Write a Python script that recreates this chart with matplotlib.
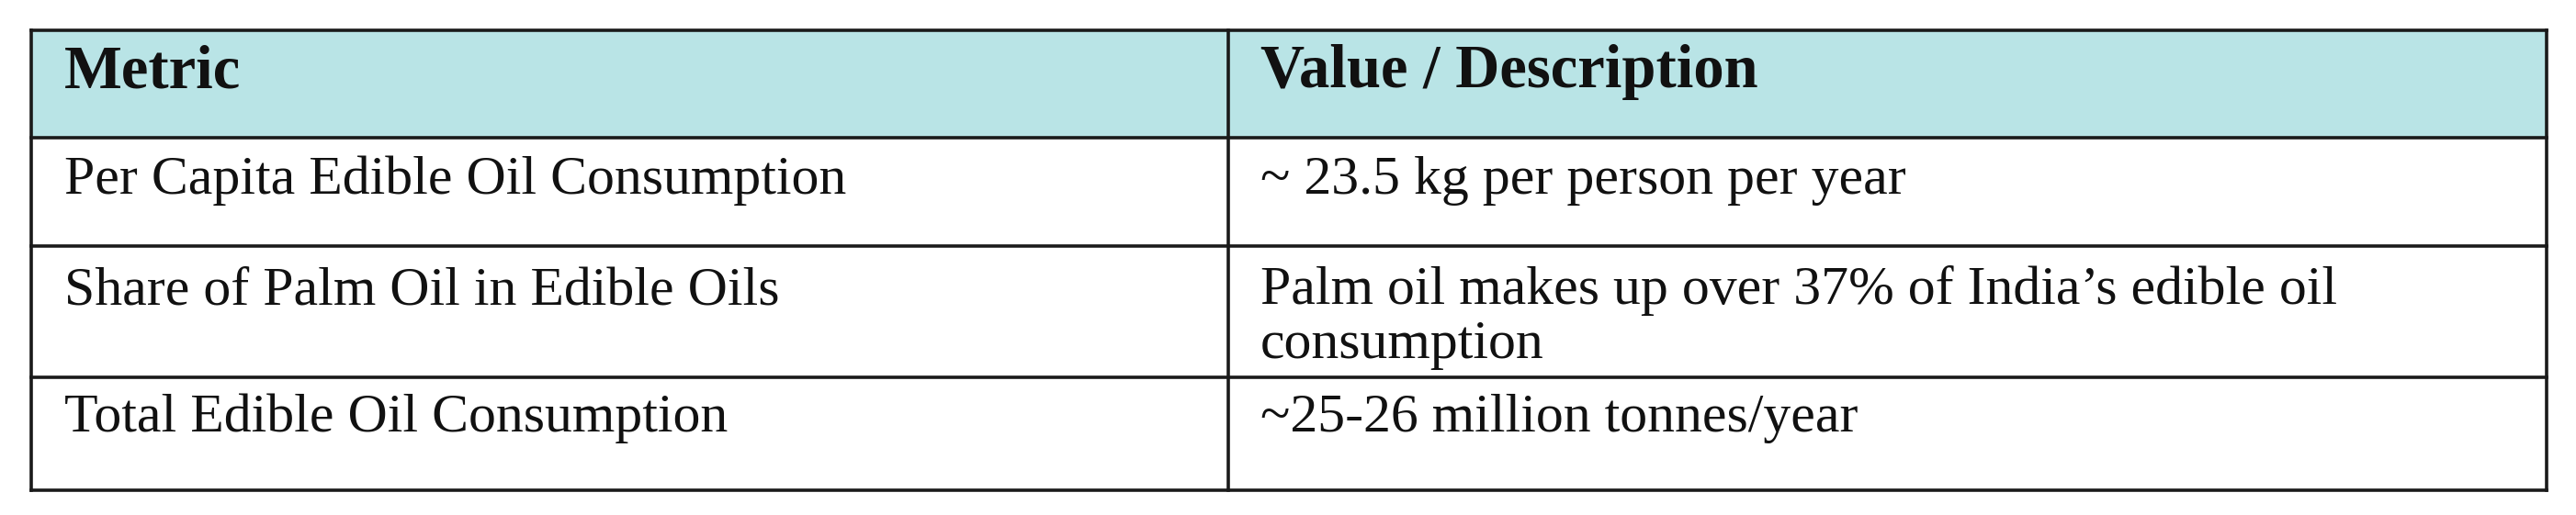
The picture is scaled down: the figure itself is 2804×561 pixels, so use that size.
import matplotlib
matplotlib.use("Agg")
import matplotlib.pyplot as plt
from matplotlib.patches import Rectangle

headers = ["Metric", "Value / Description"]
metrics = ["Per Capita Edible Oil Consumption",
           "Share of Palm Oil in Edible Oils",
           "Total Edible Oil Consumption"]
values = ["~ 23.5 kg per person per year",
          "Palm oil makes up over 37% of India\u2019s edible oil\nconsumption",
          "~25-26 million tonnes/year"]

W, H = 2804, 561
fig = plt.figure(figsize=(W / 100, H / 100), dpi=100)
ax = fig.add_axes([0, 0, 1, 1])
ax.set_xlim(0, W)
ax.set_ylim(H, 0)
ax.axis("off")

x0, xm, x1 = 34, 1337, 2772
row_edges = [33, 150, 268, 411, 534]
font = "Liberation Serif"
lc = "#1a1a1a"

ax.add_patch(Rectangle((x0, row_edges[0]), x1 - x0, row_edges[1] - row_edges[0],
                       facecolor="#b9e4e6", edgecolor="none"))
for y in row_edges:
    ax.plot([x0, x1], [y, y], color=lc, lw=2.6, solid_capstyle="projecting")
for x in (x0, xm, x1):
    ax.plot([x, x], [row_edges[0], row_edges[-1]], color=lc, lw=2.6)

tx = [70, 1372]
for i, h in enumerate(headers):
    ax.text(tx[i], 95, h, fontsize=48, fontweight="bold", family=font,
            va="baseline", ha="left", color="#111")

baselines = [211, 331, 470]
for r, (m, v) in enumerate(zip(metrics, values)):
    ax.text(tx[0], baselines[r], m, fontsize=43, family=font, va="baseline",
            ha="left", color="#111")
    lines = v.split("\n")
    for k, ln in enumerate(lines):
        ax.text(tx[1], baselines[r] + k * 59, ln, fontsize=43, family=font,
                va="baseline", ha="left", color="#111")

fig.savefig("out.png", dpi=100, facecolor="white")
